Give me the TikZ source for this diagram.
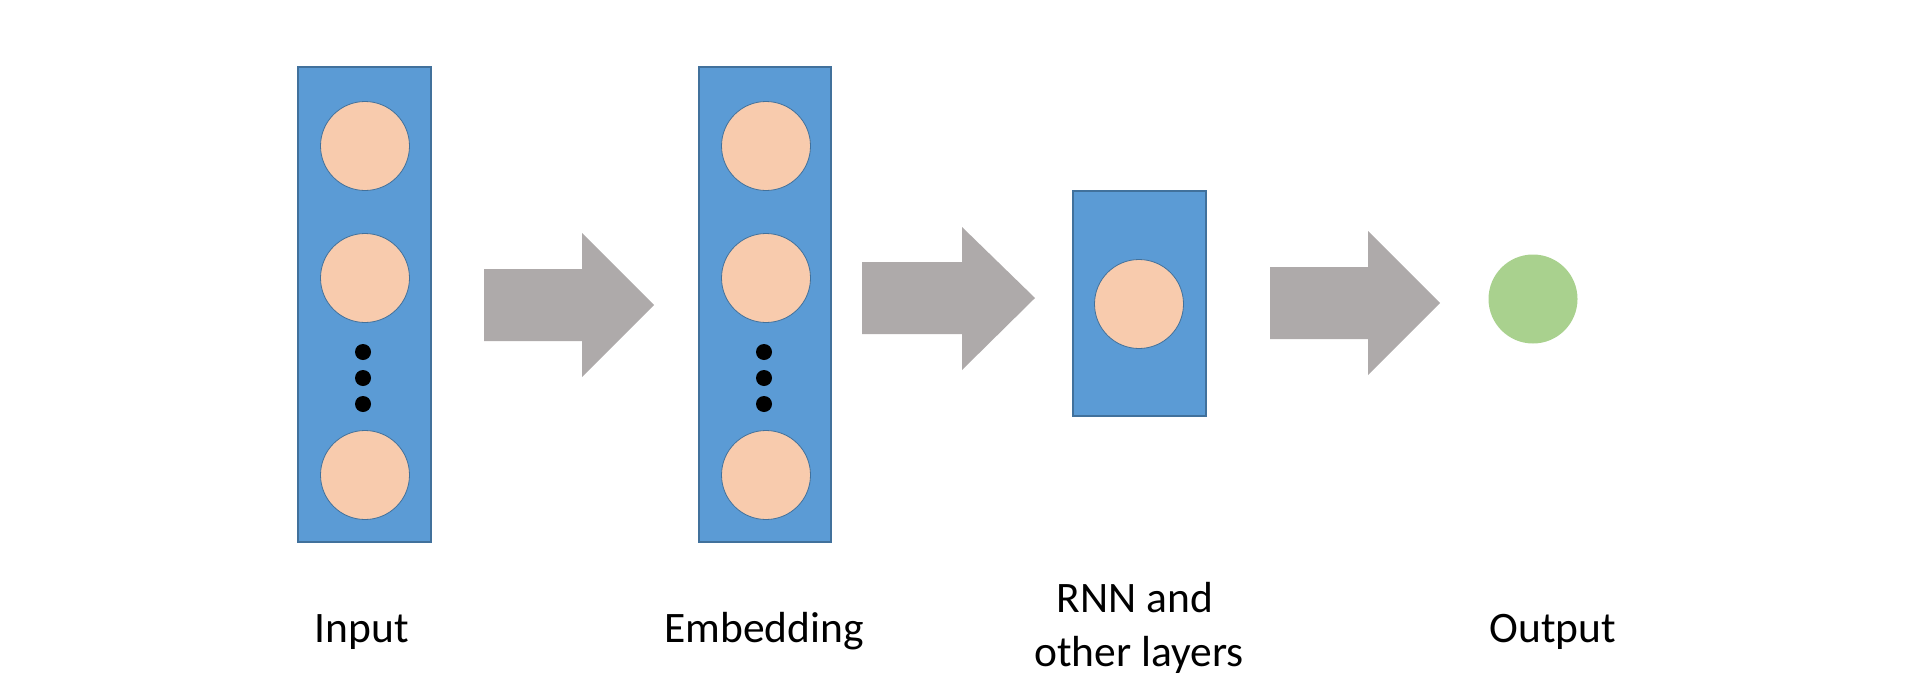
\documentclass[tikz,border=0pt]{standalone}
\usepackage{fontspec}
\setmainfont{Carlito}
\definecolor{layerblue}{HTML}{5B9BD5}
\definecolor{layeredge}{HTML}{41719C}
\definecolor{unitpeach}{HTML}{F8CBAD}
\definecolor{arrowgray}{HTML}{AEAAAA}
\definecolor{outgreen}{HTML}{A9D18E}
\begin{document}
\begin{tikzpicture}[x=0.5pt,y=-0.5pt,
  layerbox/.style={draw=layeredge,line width=0.7pt,fill=layerblue,inner sep=0pt},
  unit/.style={circle,draw=layeredge,line width=0.4pt,fill=unitpeach,minimum size=44.5pt,inner sep=0pt},
  dotmark/.style={circle,fill=black,minimum size=8pt,inner sep=0pt},
  outunit/.style={circle,fill=outgreen,minimum size=44.5pt,inner sep=0pt},
  bigarrow/.style={fill=arrowgray},
  label/.style={anchor=base,font=\fontsize{21.75}{27}\selectfont,align=center}]
\useasboundingbox (0,0) rectangle (1920,696);
% layer boxes
\node[layerbox,minimum width=66.5pt,minimum height=237.5pt] (inbox) at (364.5,304.5) {};
\node[layerbox,minimum width=66pt,minimum height=237.5pt] (embbox) at (765,304.5) {};
\node[layerbox,minimum width=66.5pt,minimum height=112.5pt] (rnnbox) at (1139.5,303.5) {};
% input units
\node[unit] (in1) at (365,146) {};
\node[unit] (in2) at (365,278) {};
\node[dotmark] (ind1) at (363,352) {};
\node[dotmark] (ind2) at (363,378) {};
\node[dotmark] (ind3) at (363,404) {};
\node[unit] (in3) at (365,475) {};
% embedding units
\node[unit] (em1) at (766,146) {};
\node[unit] (em2) at (766,278) {};
\node[dotmark] (emd1) at (764,352) {};
\node[dotmark] (emd2) at (764,378) {};
\node[dotmark] (emd3) at (764,404) {};
\node[unit] (em3) at (766,475) {};
% rnn unit
\node[unit] (rnn1) at (1139,304) {};
% output
\node[outunit] (out) at (1533,299) {};
% arrows
\fill[bigarrow] (484,269) -- (582,269) -- (582,233) -- (654,305) -- (582,377) -- (582,341) -- (484,341) -- cycle;
\fill[bigarrow] (862,262) -- (962,262) -- (962,227) -- (1035,298) -- (962,370) -- (962,334) -- (862,334) -- cycle;
\fill[bigarrow] (1270,267) -- (1368,267) -- (1368,231) -- (1440,303) -- (1368,375) -- (1368,339) -- (1270,339) -- cycle;
% labels
\node[label] (linput) at (362,642) {Input};
\node[label] (lemb) at (764,642) {Embedding};
\node[label] (lrnn1) at (1135,612) {RNN and};
\node[label] (lrnn2) at (1139,666) {other layers};
\node[label] (lout) at (1553,642) {Output};
\end{tikzpicture}
\end{document}
